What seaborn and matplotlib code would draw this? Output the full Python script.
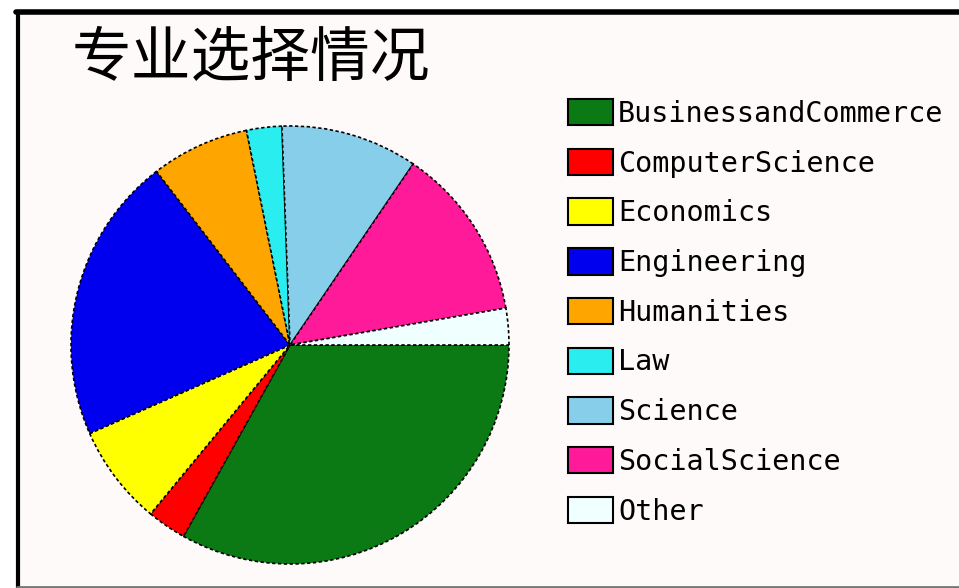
import matplotlib
matplotlib.use("Agg")
import matplotlib.pyplot as plt
from matplotlib.patches import Patch, Rectangle
from matplotlib.lines import Line2D
import seaborn as sns

# data (share of students, %)
majors = ["BusinessandCommerce", "ComputerScience", "Economics", "Engineering",
          "Humanities", "Law", "Science", "SocialScience", "Other"]
share = [33.1, 2.9, 7.4, 21.2, 7.25, 2.6, 10.1, 12.8, 2.7]
colors = ["#0B7A14", "#FF0000", "#FFFF00", "#0000EE", "#FFA500",
          "#2AEDF0", "#87CEEB", "#FF1A9A", "#F0FFFF"]
title = "专业选择情况"

sns.set_theme(style="white")
plt.rcParams["font.family"] = ["Noto Sans CJK SC", "DejaVu Sans"]

W, H = 959, 588
fig = plt.figure(figsize=(W / 100, H / 100), dpi=100)
fig.patch.set_facecolor("white")

# window-like frame
fig.patches.append(Rectangle((17 / W, 0), 1, (H - 12) / H, transform=fig.transFigure,
                             facecolor="#FFFAFA", edgecolor="none", zorder=-5))
fig.lines.append(Line2D([16 / W, 1], [(H - 12) / H] * 2, transform=fig.transFigure,
                        color="black", lw=4, zorder=-4))
fig.lines.append(Line2D([17.5 / W] * 2, [0, (H - 12) / H], transform=fig.transFigure,
                        color="black", lw=3, zorder=-4))
fig.lines.append(Line2D([17 / W, 1], [1.5 / H] * 2, transform=fig.transFigure,
                        color="#777777", lw=2, zorder=-4))

# pie
cx, cy, r = 290, 345, 219
m = 1.03
ax = fig.add_axes([(cx - r * m) / W, (H - cy - r * m) / H, 2 * r * m / W, 2 * r * m / H])
ax.pie(share, colors=colors, startangle=0, counterclock=False,
       wedgeprops=dict(edgecolor="black", linewidth=1.2, linestyle=(0, (2, 1.5))))
ax.set_xlim(-m, m)
ax.set_ylim(-m, m)
ax.set_aspect("equal")
ax.axis("off")

fig.text(72 / W, 1 - 59 / H, title, fontsize=43, fontweight="light",
         va="center", ha="left", color="black")

handles = [Patch(facecolor=c, edgecolor="black", linewidth=1.5) for c in colors]
fig.legend(handles, majors, loc="upper left", bbox_to_anchor=(568 / W, 1 - 99 / H),
           frameon=False, borderpad=0, borderaxespad=0, handlelength=1.58,
           handleheight=1.05, handletextpad=0.18, labelspacing=0.73,
           labelcolor="black", prop=dict(family="DejaVu Sans Mono", size=20.5))

fig.savefig("out.png", dpi=100)
